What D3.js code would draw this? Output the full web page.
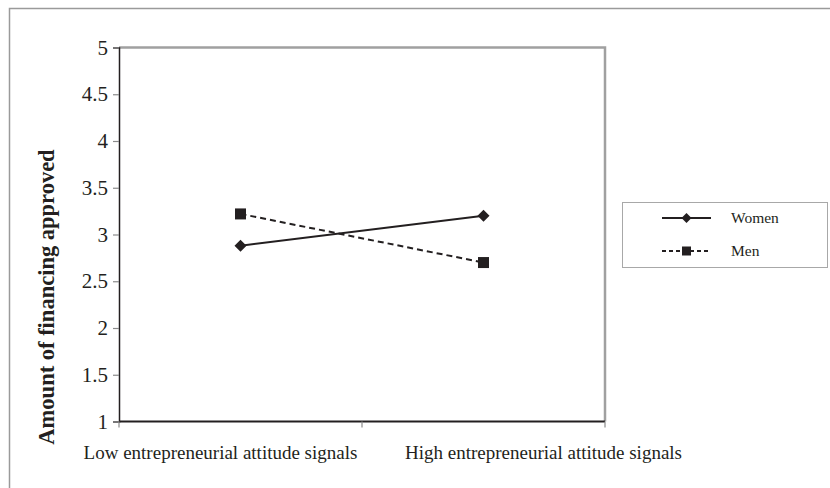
<!DOCTYPE html>
<html>
<head>
<meta charset="utf-8">
<script src="https://cdn.jsdelivr.net/npm/d3@7/dist/d3.min.js"></script>
<style>
  html, body { margin: 0; padding: 0; background: #fff; }
  svg { display: block; }
  text { font-family: "Liberation Serif", "Times New Roman", serif; fill: #231f20; }
</style>
</head>
<body>
<svg id="chart" width="830" height="488"></svg>
<script>
const categories = ["Low entrepreneurial attitude signals", "High entrepreneurial attitude signals"];
const seriesNames = ["Women", "Men"];
const womenValues = [2.88, 3.20];
const menValues = [3.22, 2.70];
const yTicks = [1, 1.5, 2, 2.5, 3, 3.5, 4, 4.5, 5];
const yTitle = "Amount of financing approved";

const series = [
  { name: seriesNames[0], values: womenValues, dash: null, marker: "diamond" },
  { name: seriesNames[1], values: menValues, dash: "6,4", marker: "square" }
];

const svg = d3.select("#chart");
const ink = "#231f20";

// outer frame
svg.append("path")
  .attr("d", "M9.5,830 L9.5,8.5 L835,8.5")
  .attr("fill", "none").attr("stroke", "#9a9a9a").attr("stroke-width", 1.5);

const plot = { left: 119, right: 605, top: 47.5, bottom: 421.5 };

const x = d3.scaleBand().domain(categories).range([plot.left, plot.right]).padding(0);
const y = d3.scaleLinear().domain([1, 5]).range([plot.bottom, plot.top]);

// top and right border (gray)
svg.append("path")
  .attr("d", `M${plot.left},${y(5)} L${plot.right},${y(5)} L${plot.right},${y(1)}`)
  .attr("fill", "none").attr("stroke", "#a0a0a0").attr("stroke-width", 2.5);

// y axis: line + ticks from d3 axis, labels drawn as plain text from the scale
const yAxis = svg.append("g")
  .attr("transform", `translate(${plot.left},0)`)
  .call(d3.axisLeft(y).tickValues(yTicks).tickSize(6).tickFormat(""));
yAxis.select(".domain").attr("stroke", ink).attr("stroke-width", 1.5);
yAxis.selectAll(".tick line").attr("stroke", "#8a8a8a").attr("stroke-width", 1.2);

svg.selectAll(".ylab").data(yTicks).enter().append("text")
  .attr("class", "ylab")
  .attr("x", plot.left - 11)
  .attr("y", d => y(d))
  .attr("dy", "0.34em")
  .attr("text-anchor", "end")
  .attr("font-size", "21px")
  .style("font-size", "21px")
  .text(d => String(d));

// x axis baseline and boundary ticks
svg.append("line")
  .attr("x1", plot.left).attr("x2", plot.right)
  .attr("y1", y(1)).attr("y2", y(1))
  .attr("stroke", ink).attr("stroke-width", 1.8);

const boundaries = categories.map(c => x(c)).concat([x.range()[1]]);
svg.selectAll(".xtick").data(boundaries).enter().append("line")
  .attr("class", "xtick")
  .attr("x1", d => d).attr("x2", d => d)
  .attr("y1", y(1)).attr("y2", y(1) + 6)
  .attr("stroke", "#8a8a8a").attr("stroke-width", 1.2);

const labelShift = [-20, 60];
svg.selectAll(".xlab").data(categories).enter().append("text")
  .attr("class", "xlab")
  .attr("x", (d, i) => x(d) + x.bandwidth() / 2 + labelShift[i])
  .attr("y", y(1) + 37)
  .attr("text-anchor", "middle")
  .style("font-size", "19px")
  .text(d => d);

// y title
svg.append("text")
  .attr("transform", `translate(54,297) rotate(-90)`)
  .attr("text-anchor", "middle")
  .style("font-size", "22.5px").style("font-weight", "bold")
  .text(yTitle);

// lines
const cx = c => x(c) + x.bandwidth() / 2;
const line = d3.line().x(d => cx(d.c)).y(d => y(d.v));

function drawMarker(g, type, px, py, size) {
  const s = size / 2;
  if (type === "diamond") {
    g.append("path")
      .attr("d", `M${px},${py - s} L${px + s},${py} L${px},${py + s} L${px - s},${py} Z`)
      .attr("fill", ink);
  } else {
    g.append("rect")
      .attr("x", px - s).attr("y", py - s).attr("width", size).attr("height", size)
      .attr("fill", ink);
  }
}

series.forEach(s => {
  const pts = s.values.map((v, i) => ({ c: categories[i], v }));
  svg.append("path")
    .datum(pts)
    .attr("d", line)
    .attr("fill", "none")
    .attr("stroke", ink)
    .attr("stroke-width", 2)
    .attr("stroke-dasharray", s.dash);
  const g = svg.append("g");
  pts.forEach(p => drawMarker(g, s.marker, cx(p.c), y(p.v), s.marker === "diamond" ? 12 : 11));
});

// legend
const lg = svg.append("g");
lg.append("rect")
  .attr("x", 622.5).attr("y", 202.5).attr("width", 205).attr("height", 65)
  .attr("fill", "#fff").attr("stroke", "#a8a8a8").attr("stroke-width", 1);

series.forEach((s, i) => {
  const ly = 218 + i * 33;
  lg.append("line")
    .attr("x1", 662).attr("x2", 711).attr("y1", ly).attr("y2", ly)
    .attr("stroke", ink).attr("stroke-width", 1.8)
    .attr("stroke-dasharray", s.dash ? "4,3" : null);
  drawMarker(lg, s.marker, 686.5, ly, s.marker === "diamond" ? 10 : 9);
  lg.append("text")
    .attr("x", 731).attr("y", ly + 5)
    .style("font-size", "15.5px")
    .text(s.name);
});
</script>
</body>
</html>
